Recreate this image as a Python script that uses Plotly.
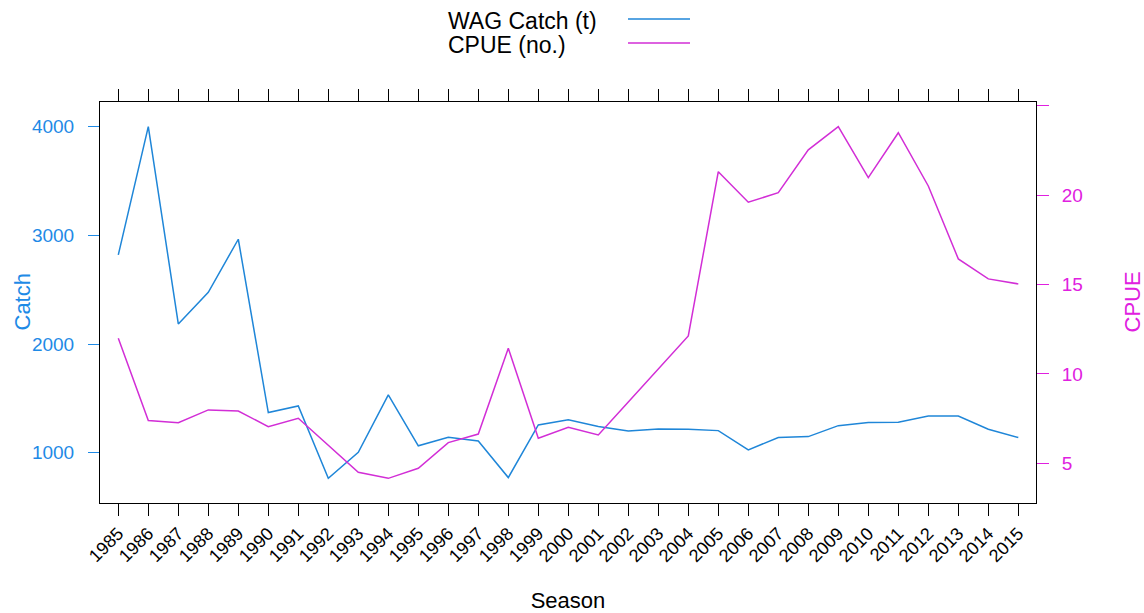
import plotly.graph_objects as go

# Data
seasons = list(range(1985, 2016))
catch_t = [2820, 4000, 2185, 2476, 2964, 1369, 1430, 765, 1004, 1532,
           1063, 1142, 1108, 771, 1255, 1302, 1240, 1200, 1219, 1216,
           1203, 1026, 1139, 1148, 1249, 1277, 1280, 1338, 1338, 1216, 1139]
cpue = [12.0, 7.39, 7.27, 7.99, 7.93, 7.05, 7.52, 6.0, 4.5, 4.16,
        4.72, 6.16, 6.64, 11.44, 6.4, 7.02, 6.59, 8.43, 10.28, 12.13,
        21.32, 19.61, 20.15, 22.54, 23.84, 20.99, 23.5, 20.52, 16.44, 15.32, 15.04]
catch_ticks = [1000, 2000, 3000, 4000]
cpue_ticks = [5, 10, 15, 20, 25]
cpue_ticktext = ["5", "10", "15", "20", ""]

BLUE_LINE = "#1f86d8"
PINK_LINE = "#d22ed6"
BLUE_TEXT = "#1e8ae6"
PINK_TEXT = "#e020e0"
FONT = "Liberation Sans, Arial, sans-serif"

W, H = 1144, 613
L, R, T, B = 100, 1036, 102, 503


def px_x(x):
    return (x - L) / (R - L)


def px_y(y):
    return (B - y) / (B - T)


fig = go.Figure()
fig.add_trace(go.Scatter(x=seasons, y=catch_t, mode="lines", name="WAG Catch (t)",
                         line=dict(color=BLUE_LINE, width=1.5)))
fig.add_trace(go.Scatter(x=seasons, y=cpue, mode="lines", name="CPUE (no.)", yaxis="y2",
                         line=dict(color=PINK_LINE, width=1.5)))

fig.update_layout(
    width=W, height=H,
    margin=dict(l=L, r=W - R, t=T, b=H - B, autoexpand=False),
    paper_bgcolor="white", plot_bgcolor="white",
    font=dict(family=FONT, size=18, color="black"),
    showlegend=False,
    xaxis=dict(range=[1984.39, 2015.59], tickvals=seasons, ticktext=[str(s) for s in seasons],
               tickangle=-45, ticks="outside", ticklen=12, tickcolor="black",
               showline=True, linecolor="black", linewidth=1, mirror="ticks",
               showgrid=False, zeroline=False, tickfont=dict(size=18), automargin=False,
               title=dict(text="Season", font=dict(size=22), standoff=30)),
    yaxis=dict(range=[537, 4227], tickvals=catch_ticks, ticks="outside", ticklen=11,
               tickcolor=BLUE_TEXT, showline=True, linecolor="black", linewidth=1,
               showgrid=False, zeroline=False, ticklabelstandoff=10, automargin=False,
               tickfont=dict(size=19, color=BLUE_TEXT)),
    yaxis2=dict(range=[2.78, 25.22], tickvals=cpue_ticks, ticktext=cpue_ticktext,
                overlaying="y", side="right", ticks="outside", ticklen=12,
                tickcolor=PINK_TEXT, showline=True, linecolor="black", linewidth=1,
                showgrid=False, zeroline=False, ticklabelstandoff=9, automargin=False,
                tickfont=dict(size=19, color=PINK_TEXT)),
)

# axis titles for the two y scales
fig.add_annotation(text="Catch", xref="paper", yref="paper", x=px_x(22), y=0.5,
                   textangle=-90, showarrow=False, xanchor="center", yanchor="middle",
                   font=dict(size=22, color=BLUE_TEXT))
fig.add_annotation(text="CPUE", xref="paper", yref="paper", x=px_x(1132), y=0.5,
                   textangle=-90, showarrow=False, xanchor="center", yanchor="middle",
                   font=dict(size=22, color=PINK_TEXT))

# Key at the top, text first and line after it
key = [("WAG Catch (t)", BLUE_LINE, 21), ("CPUE (no.)", PINK_LINE, 45)]
for label, col, ypx in key:
    fig.add_annotation(text=label, xref="paper", yref="paper", x=px_x(446), y=px_y(ypx),
                       xanchor="left", yanchor="middle", showarrow=False,
                       font=dict(size=23, color="black"))
    fig.add_shape(type="line", xref="paper", yref="paper", x0=px_x(628), x1=px_x(690),
                  y0=px_y(ypx - 2), y1=px_y(ypx - 2), line=dict(color=col, width=1.5))

# page body has an 8px default margin; drop it so the figure fills the window
fig.write_html("out.html", config={"displayModeBar": False},
               post_script="document.body.style.margin='0';document.body.style.overflow='hidden';")
